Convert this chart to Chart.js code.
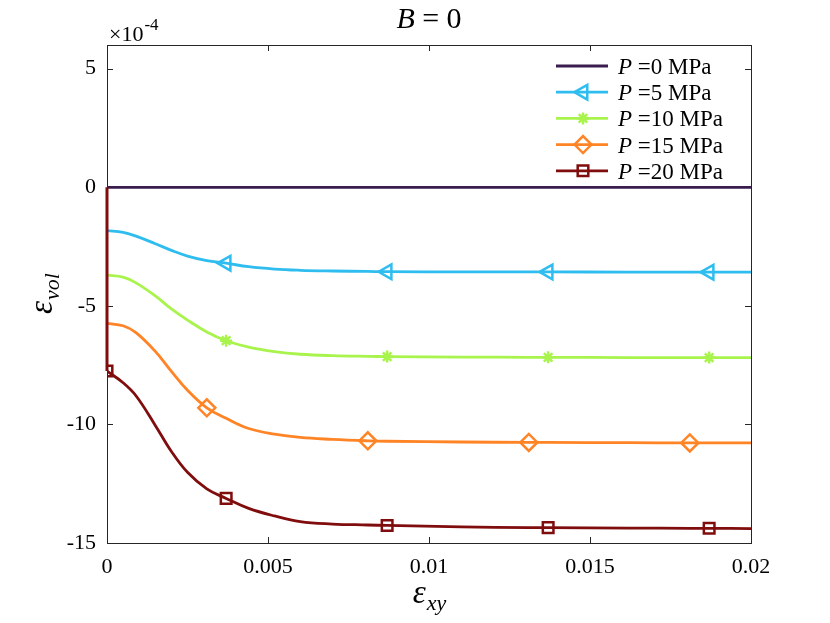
<!DOCTYPE html>
<html>
<head>
<meta charset="utf-8">
<script src="https://cdn.jsdelivr.net/npm/chart.js@4.4.1/dist/chart.umd.min.js"></script>
<style>
  body { margin: 0; background: #fff; }
  #wrap { width: 830px; height: 623px; }
</style>
</head>
<body>
<div id="wrap"><canvas id="mycanvas" width="830" height="623"></canvas></div>
<script>
// shear strain samples (x), volumetric strain in units of 1e-4 (y)
var strain = [0, 0.0005, 0.0009, 0.0015, 0.002, 0.0025, 0.0031, 0.0037, 0.0044, 0.0052, 0.006,
              0.007, 0.0081, 0.0087, 0.011, 0.0131, 0.0137, 0.0162, 0.0181, 0.0187, 0.02];
var volP0  = [0, 0, 0, 0, 0, 0, 0, 0, 0, 0, 0, 0, 0, 0, 0, 0, 0, 0, 0, 0, 0];
var volP5  = [-1.83, -1.9, -2.06, -2.38, -2.66, -2.9, -3.09, -3.2, -3.35, -3.45, -3.5,
              -3.53, -3.55, -3.56, -3.565, -3.57, -3.57, -3.575, -3.58, -3.58, -3.58];
var volP10 = [-3.7, -3.79, -4.03, -4.58, -5.13, -5.6, -6.1, -6.47, -6.74, -6.93, -7.04,
              -7.1, -7.13, -7.14, -7.16, -7.17, -7.17, -7.18, -7.18, -7.18, -7.18];
var volP15 = [-5.74, -5.84, -6.13, -6.92, -7.76, -8.56, -9.3, -9.74, -10.17, -10.41, -10.55,
              -10.63, -10.69, -10.71, -10.74, -10.76, -10.76, -10.77, -10.78, -10.78, -10.78];
var volP20 = [-7.75, -8.24, -8.79, -10.04, -11.14, -12.02, -12.72, -13.12, -13.54, -13.86, -14.1,
              -14.2, -14.24, -14.26, -14.32, -14.35, -14.35, -14.37, -14.38, -14.38, -14.39];
var pressures = [0, 5, 10, 15, 20];
// which samples carry a marker
var marksP0  = [];
var marksP5  = [7, 13, 16, 19];
var marksP10 = [7, 13, 16, 19];
var marksP15 = [6, 12, 15, 18];
var marksP20 = [0, 7, 13, 16, 19];
var xTicks = [0, 0.005, 0.01, 0.015, 0.02];
var yTicks = [-15, -10, -5, 0, 5];

var colors = ['#3b1c4f', '#2fbdef', '#a8f44c', '#ff8426', '#800d0d'];
var styles = [
  { pointStyle: false, rotation: 0, radius: 0 },
  { pointStyle: 'triangle', rotation: -90, radius: 8.5 },
  { pointStyle: 'star', rotation: 0, radius: 6 },
  { pointStyle: 'rectRot', rotation: 0, radius: 8.5 },
  { pointStyle: 'rect', rotation: 0, radius: 7.5 }
];
var series = [volP0, volP5, volP10, volP15, volP20];
var marks = [marksP0, marksP5, marksP10, marksP15, marksP20];

function toXY(ys) {
  return ys.map(function(y, i) { return { x: strain[i], y: y }; });
}

var datasets = [];
for (var i = 0; i < series.length; i++) {
  (function(k) {
    datasets.push({
      label: 'P =' + pressures[k] + ' MPa',
      data: toXY(series[k]),
      borderColor: colors[k],
      backgroundColor: 'rgba(0,0,0,0)',
      borderWidth: 2.8,
      tension: 0.4,
      pointStyle: styles[k].pointStyle || 'circle',
      rotation: styles[k].rotation,
      pointBorderWidth: 2.5,
      pointBorderColor: colors[k],
      pointBackgroundColor: k == 2 ? colors[k] : 'rgba(0,0,0,0)',
      pointRadius: function(ctx) {
        return marks[k].indexOf(ctx.dataIndex) >= 0 ? styles[k].radius : 0;
      },
      pointHoverRadius: 0,
      order: series.length - k
    });
  })(i);
}
// the P=20 curve drops from zero at the origin
datasets.push({
  label: 'drop',
  data: [{ x: 0, y: 0 }, { x: 0, y: volP20[0] }],
  borderColor: colors[4],
  borderWidth: 3,
  pointRadius: 0,
  tension: 0,
  clip: 4,
  order: 0
});

var serif = "'Liberation Serif', 'Times New Roman', serif";

var frame = {
  id: 'frame',
  beforeDatasetsDraw: function(chart) {
    var ctx = chart.ctx;
    var a = chart.chartArea;
    var xs = chart.scales.x, ys = chart.scales.y;
    ctx.save();
    ctx.strokeStyle = '#262626';
    ctx.lineWidth = 1;
    ctx.strokeRect(a.left + 0.5, a.top + 0.5, a.right - a.left, a.bottom - a.top);
    // inward ticks
    ctx.beginPath();
    xTicks.forEach(function(v) {
      var px = Math.round(xs.getPixelForValue(v)) + 0.5;
      ctx.moveTo(px, a.bottom); ctx.lineTo(px, a.bottom - 6);
      ctx.moveTo(px, a.top); ctx.lineTo(px, a.top + 6);
    });
    yTicks.forEach(function(v) {
      var py = Math.round(ys.getPixelForValue(v)) + 0.5;
      ctx.moveTo(a.left, py); ctx.lineTo(a.left + 6, py);
      ctx.moveTo(a.right, py); ctx.lineTo(a.right - 6, py);
    });
    ctx.stroke();
    ctx.restore();
  },
  afterDraw: function(chart) {
    var ctx = chart.ctx;
    var a = chart.chartArea;
    ctx.save();
    ctx.fillStyle = '#000';
    ctx.textBaseline = 'alphabetic';
    // title B = 0
    ctx.font = 'italic 30px ' + serif;
    var wB = ctx.measureText('B').width;
    ctx.font = '30px ' + serif;
    var wR = ctx.measureText(' = 0').width;
    var tx = (a.left + a.right) / 2 - (wB + wR) / 2;
    ctx.font = 'italic 30px ' + serif;
    ctx.fillText('B', tx, 28);
    ctx.font = '30px ' + serif;
    ctx.fillText(' = 0', tx + wB, 28);

    // exponent
    ctx.font = '22px ' + serif;
    ctx.fillText('\u00d710', 109, 41);
    var we = ctx.measureText('\u00d710').width;
    ctx.font = '17px ' + serif;
    ctx.fillText('-4', 109 + we + 1, 30);

    // x label
    ctx.font = 'italic 33px ' + serif;
    var we1 = ctx.measureText('\u03b5').width;
    ctx.font = 'italic 22px ' + serif;
    var we2 = ctx.measureText('xy').width;
    var lx = (a.left + a.right) / 2 - (we1 + we2) / 2;
    ctx.font = 'italic 33px ' + serif;
    ctx.fillText('\u03b5', lx, 603);
    ctx.font = 'italic 22px ' + serif;
    ctx.fillText('xy', lx + we1 + 1, 610);

    // y label
    ctx.save();
    ctx.translate(52, (a.top + a.bottom) / 2);
    ctx.rotate(-Math.PI / 2);
    ctx.font = 'italic 33px ' + serif;
    var wv1 = ctx.measureText('\u03b5').width;
    ctx.font = 'italic 22px ' + serif;
    var wv2 = ctx.measureText('vol').width;
    var ly = -(wv1 + wv2) / 2;
    ctx.font = 'italic 33px ' + serif;
    ctx.fillText('\u03b5', ly, 0);
    ctx.font = 'italic 22px ' + serif;
    ctx.fillText('vol', ly + wv1 + 1, 7);
    ctx.restore();

    // legend with line + marker samples
    for (var k = 0; k < series.length; k++) {
      var ry = 66 + k * 26.2;
      ctx.strokeStyle = colors[k];
      ctx.lineWidth = 2.8;
      ctx.beginPath();
      ctx.moveTo(556, ry); ctx.lineTo(608, ry);
      ctx.stroke();
      if (styles[k].pointStyle) {
        ctx.fillStyle = k == 2 ? colors[k] : 'rgba(0,0,0,0)';
        ctx.strokeStyle = colors[k];
        ctx.lineWidth = 2.5;
        Chart.helpers.drawPoint(ctx, {
          pointStyle: styles[k].pointStyle,
          rotation: styles[k].rotation,
          radius: styles[k].radius,
          borderWidth: 2.5
        }, 583, ry);
      }
      ctx.fillStyle = '#000';
      ctx.font = 'italic 23px ' + serif;
      ctx.fillText('P', 618, ry + 8);
      var wp = ctx.measureText('P').width;
      ctx.font = '23px ' + serif;
      ctx.fillText(' =' + pressures[k] + ' MPa', 618 + wp, ry + 8);
    }
    ctx.restore();
  }
};

var ctx = document.getElementById('mycanvas');
var chart = new Chart(ctx, {
  type: 'line',
  data: { datasets: datasets },
  options: {
    responsive: false,
    animation: false,
    events: [],
    layout: { padding: { top: 45, right: 79, left: 0, bottom: 0 } },
    plugins: {
      legend: { display: false },
      title: { display: false },
      tooltip: { enabled: false }
    },
    scales: {
      x: {
        type: 'linear',
        min: 0,
        max: 0.02,
        grid: { display: false, drawTicks: false },
        border: { display: false },
        afterBuildTicks: function(scale) {
          scale.ticks = xTicks.map(function(v) { return { value: v }; });
        },
        afterFit: function(scale) { scale.height = 80; },
        ticks: {
          padding: 11,
          color: '#000',
          font: { family: serif, size: 22 },
          maxRotation: 0,
          callback: function(v) { return String(+v.toFixed(3)); }
        }
      },
      y: {
        type: 'linear',
        min: -15,
        max: 6,
        grid: { display: false, drawTicks: false },
        border: { display: false },
        afterBuildTicks: function(scale) {
          scale.ticks = yTicks.map(function(v) { return { value: v }; });
        },
        afterFit: function(scale) { scale.width = 107; },
        ticks: {
          padding: 11,
          color: '#000',
          font: { family: serif, size: 22 },
          callback: function(v) { return String(v); }
        }
      }
    }
  },
  plugins: [frame]
});
</script>
</body>
</html>
